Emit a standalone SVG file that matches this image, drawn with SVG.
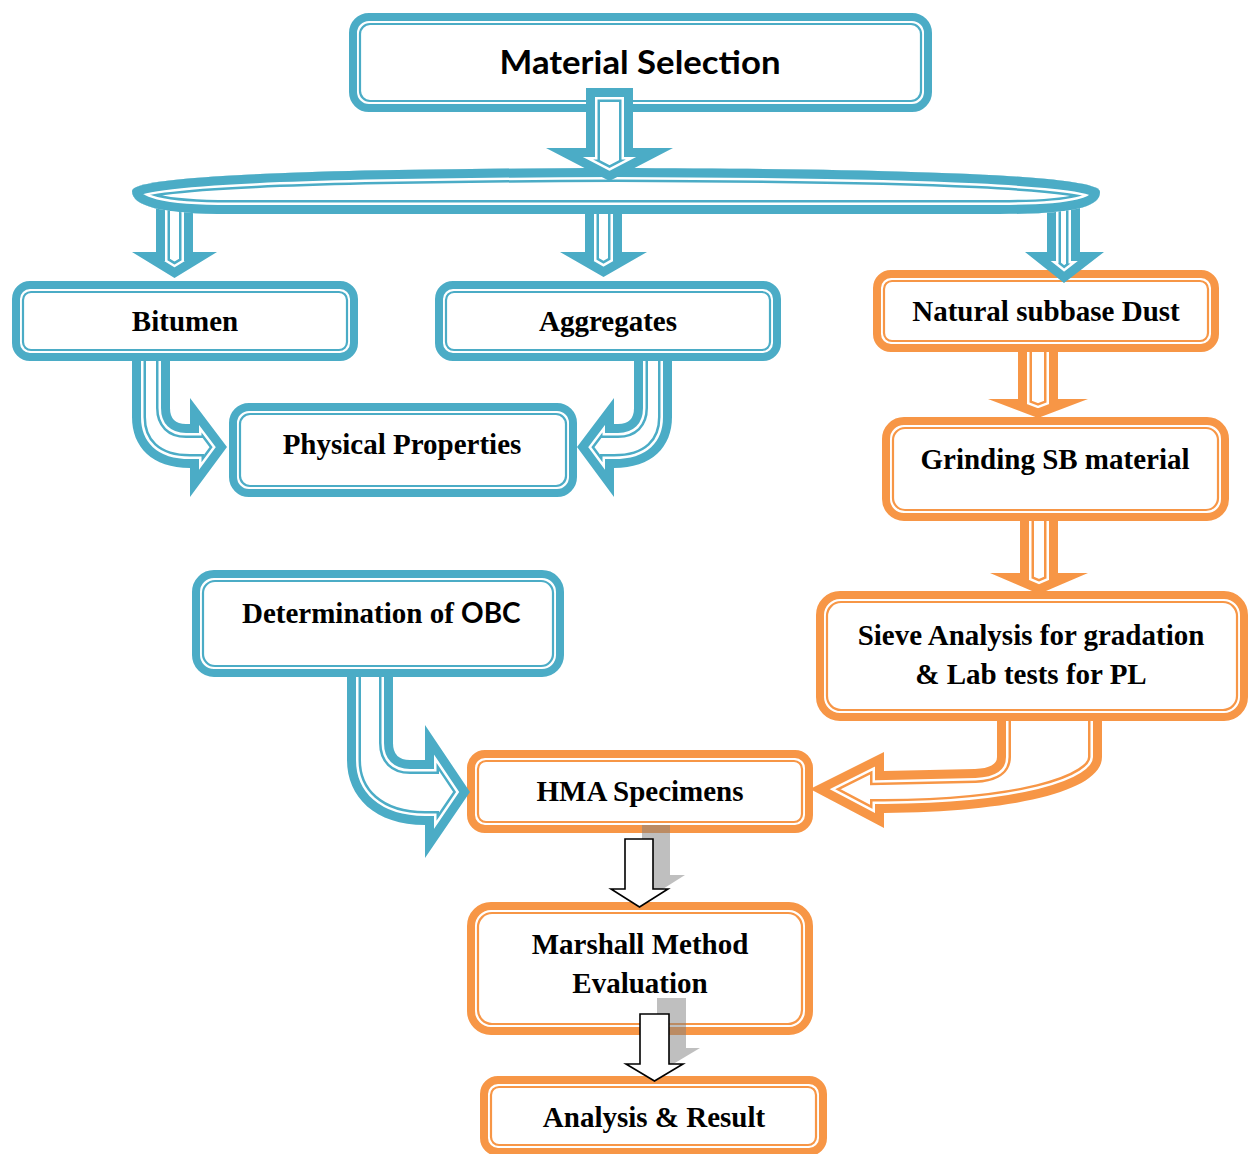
<svg xmlns="http://www.w3.org/2000/svg" xmlns:xlink="http://www.w3.org/1999/xlink" width="1253" height="1154" viewBox="0 0 1253 1154">
<style>
.o1{fill:#fff;stroke-width:8}
.o2{fill:none;stroke-width:2.2}
.blue .o1,.blue .o2{stroke:#4BACC6}
.orange .o1,.orange .o2{stroke:#F79646}
.fw{fill:#fff;stroke:none}
.b1{fill:none;stroke-width:28;stroke-linejoin:miter;stroke-miterlimit:20}
.b2{fill:none;stroke:#fff;stroke-width:23;stroke-linejoin:miter;stroke-miterlimit:20}
.b3{fill:none;stroke-width:18;stroke-linejoin:miter;stroke-miterlimit:20}
.cb{stroke:#4BACC6}
.co{stroke:#F79646}
.t{font-family:"Liberation Serif","Times New Roman",serif;font-weight:bold;font-size:29px;fill:#000;text-anchor:middle}
.ts{font-family:Lato,"Open Sans",sans-serif;font-weight:bold}
.st{text-anchor:start}
.blk{fill:#fff;stroke:#000;stroke-width:1.6;stroke-linejoin:miter}
.shd{fill:#7f7f7f;fill-opacity:0.5}
</style>
<defs>
<path id="pE" d="M132,191 C132,176 300,169 616,168 C932,169 1100,176 1100,192 C1100,206 1078,214 1000,214 L230,214 C160,214 132,206 132,191 Z"/>
<clipPath id="kE"><use xlink:href="#pE"/></clipPath>
<mask id="mE" maskUnits="userSpaceOnUse" x="0" y="0" width="1253" height="1154"><rect width="1253" height="1154" fill="#fff"/><use xlink:href="#pE" fill="#000"/></mask>

<path id="pTop" d="M586,88 L633,88 L633,148 L673,148 L609.5,181 L546,148 L586,148 Z"/>
<clipPath id="kTop"><use xlink:href="#pTop"/></clipPath>

<path id="pL" d="M156,190 L193,190 L193,252 L217,252 L174.5,278 L132,252 L156,252 Z"/>
<clipPath id="kL"><use xlink:href="#pL"/></clipPath>
<path id="pM" d="M585,190 L622,190 L622,252 L647,252 L603.5,277 L560,252 L585,252 Z"/>
<clipPath id="kM"><use xlink:href="#pM"/></clipPath>
<path id="pR" d="M1047,190 L1080,190 L1080,252 L1104,252 L1064,283 L1025,252 L1047,252 Z"/>
<clipPath id="kR"><use xlink:href="#pR"/></clipPath>

<path id="pBit" d="M132,331 L132,417 C132,447 152,468 190,468 L190,497 L227,447 L190,398 L190,424 L186,424 Q170,424 170,408 L170,331 Z"/>
<clipPath id="kBit"><path d="M132,361 L132,417 C132,447 152,468 190,468 L190,497 L227,447 L190,398 L190,424 L186,424 Q170,424 170,408 L170,361 Z"/></clipPath>

<path id="pAgg" d="M672,331 L672,417 C672,447 652,468 614,468 L614,497 L577,447 L614,398 L614,424 L618,424 Q634,424 634,408 L634,331 Z"/>
<clipPath id="kAgg"><path d="M672,361 L672,417 C672,447 652,468 614,468 L614,497 L577,447 L614,398 L614,424 L618,424 Q634,424 634,408 L634,361 Z"/></clipPath>

<path id="pObc" d="M347,647 L347,760 C347,797 375,825 425,825 L425,858 L470,792 L425,725 L425,760 L410,760 Q393,760 393,743 L393,647 Z"/>
<clipPath id="kObc"><path d="M347,677 L347,760 C347,797 375,825 425,825 L425,858 L470,792 L425,725 L425,760 L410,760 Q393,760 393,743 L393,677 Z"/></clipPath>

<path id="pNG" d="M1018,322 L1058,322 L1058,399 L1088,399 L1038,418 L988,399 L1018,399 Z"/>
<clipPath id="kNG"><path d="M1018,352 L1058,352 L1058,399 L1088,399 L1038,418 L988,399 L1018,399 Z"/></clipPath>

<path id="pGS" d="M1020,491 L1058,491 L1058,573 L1088,573 L1039,594 L990,573 L1020,573 Z"/>
<clipPath id="kGS"><path d="M1020,521 L1058,521 L1058,573 L1088,573 L1039,594 L990,573 L1020,573 Z"/></clipPath>

<path id="pSH" d="M997,691 L997,757 Q997,768 975,769 L884,771 L884,752 L810,789 L884,828 L884,813 C1010,812 1102,792 1102,757 L1102,691 Z"/>
<clipPath id="kSH"><path d="M997,721 L997,757 Q997,768 975,769 L884,771 L884,752 L810,789 L884,828 L884,813 C1010,812 1102,792 1102,757 L1102,721 Z"/></clipPath>

<path id="pA1" d="M625,839 L653,839 L653,889 L668,889 L639.5,907 L611,889 L625,889 Z"/>
<path id="pA2" d="M640,1014 L669,1014 L669,1064 L683,1064 L654.5,1081 L626,1064 L640,1064 Z"/>
</defs>

<rect width="1253" height="1154" fill="#fff"/>

<g id="nodes">
<g id="n-material" class="blue">
<rect class="o1" x="353" y="17" width="575" height="91" rx="16"/>
<rect class="o2" x="360" y="24" width="561" height="77" rx="10"/>
<text class="ts" x="640" y="74" font-size="33" text-anchor="middle" textLength="281" lengthAdjust="spacingAndGlyphs">Material Selection</text>
</g>
<g id="n-split">
<g clip-path="url(#kE)">
<use xlink:href="#pE" class="fw"/>
<use xlink:href="#pE" class="b1 cb"/>
<use xlink:href="#pE" class="b2"/>
<use xlink:href="#pE" class="b3 cb"/>
</g>
</g>
<g id="n-bitumen" class="blue">
<rect class="o1" x="16" y="285" width="338" height="72" rx="14"/>
<rect class="o2" x="23" y="292" width="324" height="58" rx="8"/>
<text class="t" x="185" y="331">Bitumen</text>
</g>
<g id="n-aggregates" class="blue">
<rect class="o1" x="439" y="285" width="338" height="72" rx="14"/>
<rect class="o2" x="446" y="292" width="324" height="58" rx="8"/>
<text class="t" x="608" y="331">Aggregates</text>
</g>
<g id="n-natural" class="orange">
<rect class="o1" x="877" y="274" width="338" height="74" rx="14"/>
<rect class="o2" x="884" y="281" width="324" height="60" rx="8"/>
<text class="t" x="1046" y="321">Natural subbase Dust</text>
</g>
<g id="n-physical" class="blue">
<rect class="o1" x="233" y="407" width="340" height="86" rx="16"/>
<rect class="o2" x="240" y="414" width="326" height="72" rx="10"/>
<text class="t" x="402" y="454">Physical Properties</text>
</g>
<g id="n-grinding" class="orange">
<rect class="o1" x="886" y="421" width="339" height="96" rx="18"/>
<rect class="o2" x="893" y="428" width="325" height="82" rx="12"/>
<text class="t" x="1055" y="469">Grinding SB material</text>
</g>
<g id="n-obc" class="blue">
<rect class="o1" x="196" y="574" width="364" height="99" rx="18"/>
<rect class="o2" x="203" y="581" width="350" height="85" rx="12"/>
<text class="t st" x="242" y="623">Determination of <tspan class="ts" font-size="28">OBC</tspan></text>
</g>
<g id="n-sieve" class="orange">
<rect class="o1" x="820" y="595" width="424" height="122" rx="20"/>
<rect class="o2" x="827" y="602" width="410" height="108" rx="14"/>
<text class="t" x="1031" y="645">Sieve Analysis for gradation</text>
<text class="t" x="1031" y="684">&amp; Lab tests for PL</text>
</g>
<g id="n-hma" class="orange">
<rect class="o1" x="471" y="754" width="338" height="75" rx="14"/>
<rect class="o2" x="478" y="761" width="324" height="61" rx="8"/>
<text class="t" x="640" y="801">HMA Specimens</text>
</g>
<g id="n-marshall" class="orange">
<rect class="o1" x="471" y="906" width="338" height="125" rx="20"/>
<rect class="o2" x="478" y="913" width="324" height="111" rx="14"/>
<text class="t" x="640" y="954">Marshall Method</text>
<text class="t" x="640" y="993">Evaluation</text>
</g>
<g id="n-analysis" class="orange">
<rect class="o1" x="484" y="1080" width="339" height="72" rx="14"/>
<rect class="o2" x="491" y="1087" width="325" height="58" rx="8"/>
<text class="t" x="654" y="1127">Analysis &amp; Result</text>
</g>
</g>

<g id="connectors">
<g mask="url(#mE)">
<g clip-path="url(#kL)"><use xlink:href="#pL" class="fw"/><use xlink:href="#pL" class="b1 cb"/><use xlink:href="#pL" class="b2"/><use xlink:href="#pL" class="b3 cb"/></g>
<g clip-path="url(#kM)"><use xlink:href="#pM" class="fw"/><use xlink:href="#pM" class="b1 cb"/><use xlink:href="#pM" class="b2"/><use xlink:href="#pM" class="b3 cb"/></g>
<g clip-path="url(#kR)"><use xlink:href="#pR" class="fw"/><use xlink:href="#pR" class="b1 cb"/><use xlink:href="#pR" class="b2"/><use xlink:href="#pR" class="b3 cb"/></g>
</g>
<g clip-path="url(#kTop)"><use xlink:href="#pTop" class="fw"/><use xlink:href="#pTop" class="b1 cb"/><use xlink:href="#pTop" class="b2"/><use xlink:href="#pTop" class="b3 cb"/></g>
<g clip-path="url(#kBit)"><use xlink:href="#pBit" class="fw"/><use xlink:href="#pBit" class="b1 cb"/><use xlink:href="#pBit" class="b2"/><use xlink:href="#pBit" class="b3 cb"/></g>
<g clip-path="url(#kAgg)"><use xlink:href="#pAgg" class="fw"/><use xlink:href="#pAgg" class="b1 cb"/><use xlink:href="#pAgg" class="b2"/><use xlink:href="#pAgg" class="b3 cb"/></g>
<g clip-path="url(#kObc)"><use xlink:href="#pObc" class="fw"/><use xlink:href="#pObc" class="b1 cb"/><use xlink:href="#pObc" class="b2"/><use xlink:href="#pObc" class="b3 cb"/></g>
<g clip-path="url(#kNG)"><use xlink:href="#pNG" class="fw"/><use xlink:href="#pNG" class="b1 co"/><use xlink:href="#pNG" class="b2"/><use xlink:href="#pNG" class="b3 co"/></g>
<g clip-path="url(#kGS)"><use xlink:href="#pGS" class="fw"/><use xlink:href="#pGS" class="b1 co"/><use xlink:href="#pGS" class="b2"/><use xlink:href="#pGS" class="b3 co"/></g>
<g clip-path="url(#kSH)"><use xlink:href="#pSH" class="fw"/><use xlink:href="#pSH" class="b1 co"/><use xlink:href="#pSH" class="b2"/><use xlink:href="#pSH" class="b3 co"/></g>
<use xlink:href="#pA1" class="shd" transform="translate(17,-14)"/>
<use xlink:href="#pA1" class="blk"/>
<use xlink:href="#pA2" class="shd" transform="translate(17,-16)"/>
<use xlink:href="#pA2" class="blk"/>
</g>
</svg>
